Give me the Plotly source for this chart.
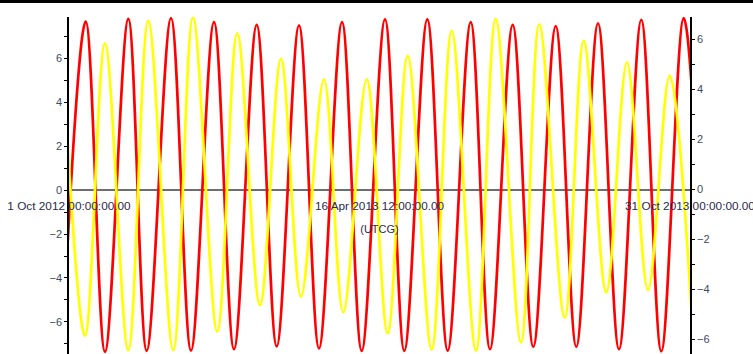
import pandas as pd
import plotly.graph_objects as go

# Extrema of each series: days since 1 Oct 2012 00:00 UTCG and value
red_days = [-4.45, 10.62, 22.90, 37.72, 49.42, 64.88, 77.60, 92.23, 104.95, 119.39,
            132.11, 146.30, 159.02, 173.65, 186.18, 201.00, 213.28, 227.91, 240.88,
            255.51, 267.79, 282.23, 295.33, 309.58, 322.68, 336.48, 349.84, 364.02,
            376.75, 391.00, 404.54]
red_vals = [-7.30, 7.66, -7.35, 7.78, -7.31, 7.81, -7.30, 7.63, -7.24, 7.51,
            -7.11, 7.48, -7.20, 7.63, -7.31, 7.76, -7.31, 7.76, -7.30,
            7.63, -7.24, 7.51, -7.13, 7.45, -7.13, 7.58, -7.24, 7.74,
            -7.33, 7.81, -7.30]

yellow_days = [-3.82, 10.18, 22.90, 37.72, 50.44, 66.34, 78.87, 94.33, 107.05, 121.49,
               134.85, 147.57, 162.20, 174.47, 189.36, 202.72, 215.44, 230.70, 243.42,
               258.88, 271.41, 287.50, 299.15, 315.30, 327.39, 341.76, 354.93, 368.29,
               382.09, 395.95]
yellow_vals = [5.00, -5.87, 5.83, -6.45, 6.73, -6.45, 6.86, -5.71, 6.23, -4.65,
               5.21, -4.31, 4.39, -4.94, 4.39, -5.77, 5.33, -6.43, 6.33,
               -6.47, 6.81, -6.14, 6.59, -5.15, 5.93, -4.14, 5.07, -4.05,
               4.54, -4.90]

start = pd.Timestamp("2012-10-01 00:00:00")
end = pd.Timestamp("2013-10-31 00:00:00")
x_tickvals = [pd.Timestamp("2012-10-01 00:00:00"),
              pd.Timestamp("2013-04-16 12:00:00"),
              pd.Timestamp("2013-10-31 00:00:00")]
x_ticktext = ["1 Oct 2012 00:00:00.00",
              "16 Apr 2013 12:00:00.00",
              "31 Oct 2013 00:00:00.00"]

left_range = [-7.455, 7.864]
right_range = [-6.60, 6.88]

red_x = start + pd.to_timedelta(red_days, unit="D")
yellow_x = start + pd.to_timedelta(yellow_days, unit="D")

FONT = "Arial, Liberation Sans, sans-serif"
LABEL_COLOR = "#3d4a62"
DATE_COLOR = "#2a2a4c"

fig = go.Figure()
fig.add_trace(go.Scatter(
    x=yellow_x, y=yellow_vals, yaxis="y2", mode="lines",
    line=dict(color="#ffff00", width=2.7, shape="spline", smoothing=1),
    showlegend=False, hoverinfo="skip"))
fig.add_trace(go.Scatter(
    x=red_x, y=red_vals, yaxis="y", mode="lines",
    line=dict(color="#ff0000", width=2.7, shape="spline", smoothing=1),
    showlegend=False, hoverinfo="skip"))

zero_pos = -left_range[0] / (left_range[1] - left_range[0])

y_common = dict(showgrid=False, dtick=2, tick0=0,
                tickfont=dict(family=FONT, size=11, color=LABEL_COLOR),
                ticks="outside", ticklen=3, tickwidth=1, tickcolor="black",
                minor=dict(dtick=1, tick0=0, ticks="outside", ticklen=3,
                           tickwidth=1, tickcolor="black", showgrid=False),
                showline=True, linecolor="black", linewidth=1.6,
                automargin=False)

fig.update_layout(
    width=753, height=354,
    margin=dict(l=69, r=63, t=17, b=0),
    paper_bgcolor="white", plot_bgcolor="white",
    xaxis=dict(range=[start, end], type="date", anchor="free",
               position=zero_pos, showgrid=False, showline=False,
               zeroline=False, ticks="", tickvals=x_tickvals,
               ticktext=x_ticktext, automargin=False, ticklabelstandoff=7,
               ticklabeloverflow="allow",
               tickfont=dict(family=FONT, size=11.8, color=DATE_COLOR),
               title=dict(text="(UTCG)", standoff=13,
                          font=dict(family=FONT, size=11, color=DATE_COLOR))),
    yaxis=dict(range=left_range, side="left", anchor="x",
               zeroline=True, zerolinecolor="#6e6e6e", zerolinewidth=1.8,
               **y_common),
    yaxis2=dict(range=right_range, side="right", anchor="x", overlaying="y",
                zeroline=False, **y_common),
    # second set of short marks on the inner side of each vertical axis
    yaxis3=dict(range=left_range, side="left", anchor="x", overlaying="y",
                showgrid=False, zeroline=False, showline=False,
                showticklabels=False, dtick=1, tick0=0, ticks="inside",
                ticklen=3, tickwidth=1, tickcolor="black"),
    yaxis4=dict(range=right_range, side="right", anchor="x", overlaying="y",
                showgrid=False, zeroline=False, showline=False,
                showticklabels=False, dtick=1, tick0=0, ticks="inside",
                ticklen=3, tickwidth=1, tickcolor="black"),
    shapes=[dict(type="rect", xref="paper", yref="paper",
                 x0=-0.2, x1=1.2, y0=1 + 14 / 337, y1=1 + 20 / 337,
                 fillcolor="black", line=dict(width=0), layer="above")],
)

fig.write_html("out.html")
